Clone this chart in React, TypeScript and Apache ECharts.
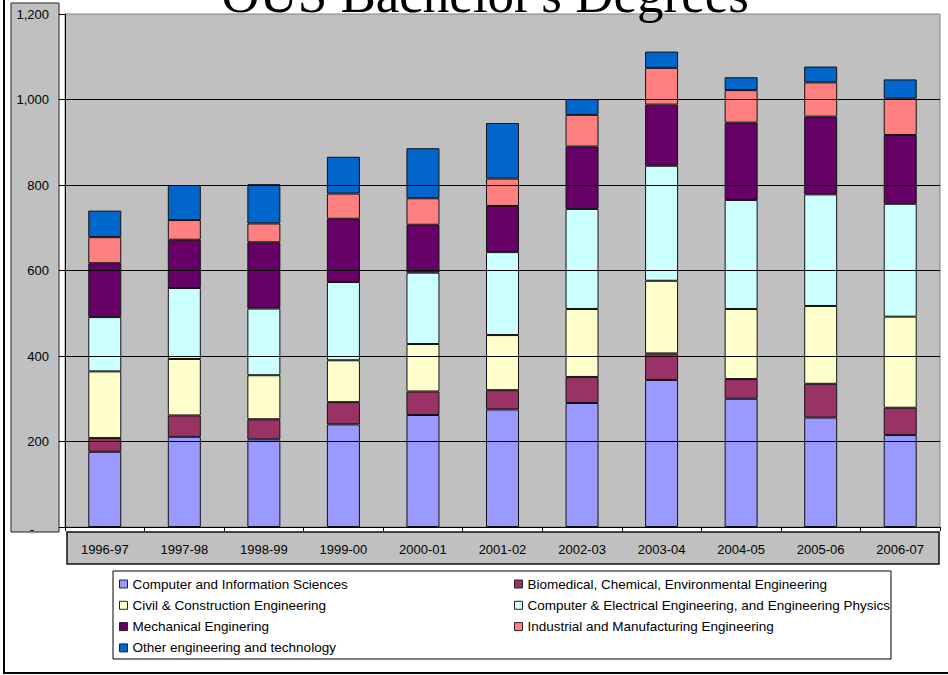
import { useEffect, useRef } from 'react';
import * as echarts from 'echarts';

const categories = ['1996-97', '1997-98', '1998-99', '1999-00', '2000-01', '2001-02', '2002-03', '2003-04', '2004-05', '2005-06', '2006-07'];

const nameCIS = 'Computer and Information Sciences';
const nameBio = 'Biomedical, Chemical, Environmental Engineering';
const nameCivil = 'Civil & Construction Engineering';
const nameCE = 'Computer & Electrical Engineering, and Engineering Physics';
const nameMech = 'Mechanical Enginering';
const nameInd = 'Industrial and Manufacturing Engineering';
const nameOther = 'Other engineering and technology';

const cis = [176, 211, 205, 240, 262, 275, 290, 344, 300, 256, 215];
const bio = [32, 50, 47, 52, 55, 45, 61, 62, 46, 79, 64];
const civil = [156, 132, 103, 98, 111, 129, 159, 170, 164, 182, 213];
const compElec = [127, 166, 156, 183, 167, 194, 234, 269, 255, 261, 264];
const mech = [126, 113, 155, 148, 112, 108, 146, 143, 181, 182, 161];
const industrial = [61, 46, 44, 59, 62, 64, 74, 86, 76, 80, 85];
const other = [62, 82, 92, 86, 117, 130, 37, 38, 30, 37, 45];

const titleText = "OUS Bachelor's Degrees";
const yMin = 0;
const yMax = 1200;
const yInterval = 200;

const colors = {
  cis: '#9999FF',
  bio: '#993366',
  civil: '#FFFFCC',
  ce: '#CCFFFF',
  mech: '#660066',
  ind: '#FF8080',
  other: '#0066CC',
};

const FONT = '"Liberation Sans", Arial, sans-serif';

export default function App() {
  const ref = useRef<HTMLDivElement>(null);

  useEffect(() => {
    if (!ref.current) return;
    const chart = echarts.init(ref.current, undefined, { renderer: 'svg' });

    const mk = (name: string, data: number[], color: string) => ({
      name,
      type: 'bar',
      stack: 'total',
      data,
      barWidth: 33,
      itemStyle: { color, borderColor: '#111', borderWidth: 1 },
      emphasis: { disabled: true },
    });

    const legendBase = {
      orient: 'vertical',
      icon: 'rect',
      itemWidth: 8,
      itemHeight: 8,
      itemGap: 7.3,
      selectedMode: false,
      padding: 0,
      itemStyle: { borderColor: '#222', borderWidth: 1 },
      textStyle: { fontFamily: FONT, fontSize: 13.5, lineHeight: 14, color: '#000' },
    };

    chart.setOption({
      animation: false,
      backgroundColor: '#ffffff',
      grid: {
        left: 65,
        top: 14,
        width: 875,
        height: 513,
        show: true,
        backgroundColor: '#C0C0C0',
        borderColor: '#808080',
        borderWidth: 1,
      },
      xAxis: {
        type: 'category',
        data: categories,
        axisLine: { lineStyle: { color: '#000', width: 1 } },
        axisTick: { show: true, length: 4, lineStyle: { color: '#000' } },
        axisLabel: { color: '#000', fontFamily: FONT, fontSize: 13, margin: 16 },
        z: 5,
      },
      yAxis: {
        type: 'value',
        min: yMin,
        max: yMax,
        interval: yInterval,
        axisLine: { show: true, lineStyle: { color: '#000', width: 1 } },
        axisTick: { show: true, length: 6, lineStyle: { color: '#000' } },
        splitLine: { show: true, showMaxLine: false, lineStyle: { color: '#000', width: 1 } },
        axisLabel: {
          color: '#000',
          fontFamily: FONT,
          fontSize: 13,
          margin: 16,
          formatter: (v: number) => (v === 0 ? '{z|-}' : v.toLocaleString('en-US')),
          rich: { z: { fontFamily: FONT, fontSize: 13, color: '#000', padding: [4, 15, 0, 0] } },
        },
        z: 5,
      },
      legend: [
        { ...legendBase, left: 119, top: 577, data: [nameCIS, nameCivil, nameMech, nameOther] },
        { ...legendBase, left: 514, top: 577, data: [nameBio, nameCE, nameInd] },
      ],
      graphic: [
        {
          type: 'rect',
          z: -1,
          shape: { x: 4, y: -10, width: 960, height: 683 },
          style: { fill: 'none', stroke: '#000', lineWidth: 2 },
        },
        {
          type: 'rect',
          z: -1,
          shape: { x: 11, y: 3, width: 48, height: 529 },
          style: { fill: '#C0C0C0', stroke: '#222', lineWidth: 1 },
        },
        {
          type: 'rect',
          z: -1,
          shape: { x: 67, y: 532, width: 872, height: 32 },
          style: { fill: '#C0C0C0', stroke: '#111', lineWidth: 1.5 },
        },
        {
          type: 'rect',
          z: -1,
          shape: { x: 113, y: 571, width: 778, height: 88 },
          style: { fill: '#ffffff', stroke: '#000', lineWidth: 1 },
        },
        {
          type: 'text',
          z: 100,
          x: 485,
          y: -6,
          style: {
            text: titleText,
            font: '53px "Liberation Serif", "Times New Roman", serif',
            fill: '#000',
            textAlign: 'center',
            textVerticalAlign: 'middle',
          },
        },
      ],
      series: [
        mk(nameCIS, cis, colors.cis),
        mk(nameBio, bio, colors.bio),
        mk(nameCivil, civil, colors.civil),
        mk(nameCE, compElec, colors.ce),
        mk(nameMech, mech, colors.mech),
        mk(nameInd, industrial, colors.ind),
        mk(nameOther, other, colors.other),
      ],
    });

    return () => {
      chart.dispose();
    };
  }, []);

  return (
    <div
      ref={ref}
      style={{ position: 'fixed', left: 0, top: 0, width: 948, height: 675 }}
    />
  );
}
